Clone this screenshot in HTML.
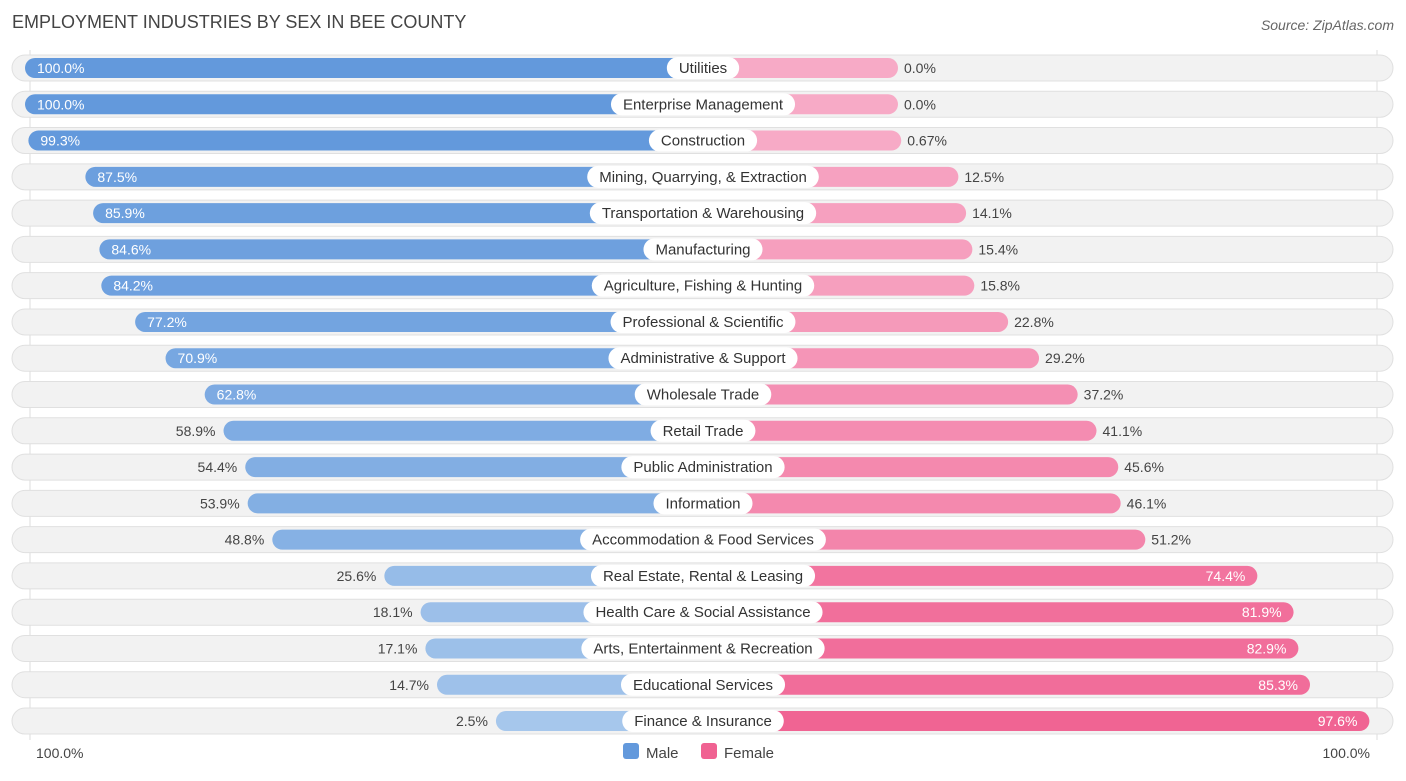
<!DOCTYPE html>
<html><head><meta charset="utf-8"><style>
body{margin:0;background:#fff;font-family:"Liberation Sans",sans-serif;}
svg text{font-family:"Liberation Sans",sans-serif;}
</style></head><body>
<svg id="c" width="1406" height="776">
<text x="12" y="28" font-size="18" fill="#444">EMPLOYMENT INDUSTRIES BY SEX IN BEE COUNTY</text>
<text x="1394" y="30" font-size="14" fill="#666" font-style="italic" text-anchor="end">Source: ZipAtlas.com</text>
<line x1="30" y1="50" x2="30" y2="740" stroke="#ddd"/>
<line x1="1377" y1="50" x2="1377" y2="740" stroke="#ddd"/>
<g id="rows"></g>
<text x="36" y="758" font-size="14" fill="#444">100.0%</text>
<text x="1370" y="758" font-size="14" fill="#444" text-anchor="end">100.0%</text>
<g><rect x="623" y="743" width="16" height="16" rx="3" fill="#6399dc"/><text x="646" y="758" font-size="15" fill="#444">Male</text></g>
<g><rect x="701" y="743" width="16" height="16" rx="3" fill="#f06292"/><text x="724" y="758" font-size="15" fill="#444">Female</text></g>
</svg>
<script>
const categories=["Utilities","Enterprise Management","Construction","Mining, Quarrying, & Extraction","Transportation & Warehousing","Manufacturing","Agriculture, Fishing & Hunting","Professional & Scientific","Administrative & Support","Wholesale Trade","Retail Trade","Public Administration","Information","Accommodation & Food Services","Real Estate, Rental & Leasing","Health Care & Social Assistance","Arts, Entertainment & Recreation","Educational Services","Finance & Insurance"];
const male=[100,100,99.3,87.5,85.9,84.6,84.2,77.2,70.9,62.8,58.9,54.4,53.9,48.8,25.6,18.1,17.1,14.7,2.5];
const female=[0,0,0.67,12.5,14.1,15.4,15.8,22.8,29.2,37.2,41.1,45.6,46.1,51.2,74.4,81.9,82.9,85.3,97.6];
const femaleLabels=["0.0%","0.0%","0.67%","12.5%","14.1%","15.4%","15.8%","22.8%","29.2%","37.2%","41.1%","45.6%","46.1%","51.2%","74.4%","81.9%","82.9%","85.3%","97.6%"];
const cx=703,stub=195,k=4.83,y0=68,step=36.28;
const xs=v=>stub+v*k;
const ys=i=>y0+i*step;
function mix(a,b,t){return 'rgb('+a.map((c,j)=>Math.round(c+(b[j]-c)*t)).join(',')+')';}
const NS="http://www.w3.org/2000/svg";
const g=document.getElementById('rows');
function el(tag,attrs,parent){const e=document.createElementNS(NS,tag);for(const a in attrs)e.setAttribute(a,attrs[a]);parent.appendChild(e);return e;}
categories.forEach((cat,i)=>{
  const y=ys(i);
  const row=el('g',{},g);
  
  
  const bg=el('rect',{x:12,y:y-13,width:1381,height:26,rx:13,fill:'#f2f2f2',stroke:'#e0e0e0'},row);
  
  
  const mw=xs(male[i]);
  const mb=el('rect',{x:cx-mw,y:y-10,width:mw,height:20,rx:10,fill:mix([168,200,236],[99,153,220],male[i]/100)},row);
  
  
  const fw=xs(female[i]);
  const fb=el('rect',{x:cx,y:y-10,width:fw,height:20,rx:10,fill:mix([247,170,198],[240,98,146],female[i]/100)},row);
  
  
  const mInside=male[i]>60;
  const mt=el('text',{x:mInside?cx-mw+12:cx-mw-8,y:y+5,'font-size':14,fill:mInside?'#fff':'#444','text-anchor':mInside?'start':'end'},row);
  mt.textContent=male[i].toFixed(1)+'%';
  
  
  const fInside=female[i]>70;
  const ft=el('text',{x:fInside?cx+fw-12:cx+fw+6,y:y+5,'font-size':14,fill:fInside?'#fff':'#444','text-anchor':fInside?'end':'start'},row);
  ft.textContent=femaleLabels[i];
  
  
  const lbl=el('text',{x:cx,y:y+5,'font-size':15,fill:'#333','text-anchor':'middle'},row);
  lbl.textContent=cat;
  const w=lbl.getComputedTextLength()+24;
  const pill=el('rect',{x:cx-w/2,y:y-11,width:w,height:22,rx:11,fill:'#fff'},row);
  row.insertBefore(pill,lbl);
  
  
  
  
});
</script>
</body></html>
